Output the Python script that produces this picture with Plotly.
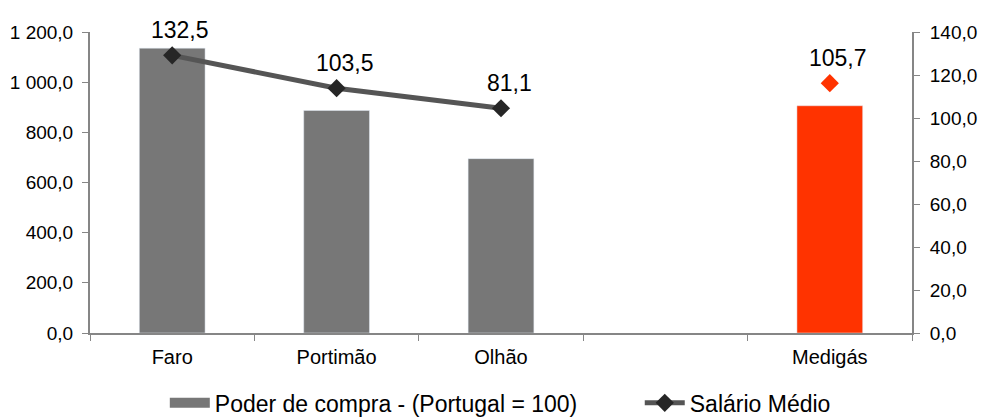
import plotly.graph_objects as go

categories = ["Faro", "Portimão", "Olhão", " ", "Medigás"]
bar_cats = ["Faro", "Portimão", "Olhão"]
poder_compra = [132.5, 103.5, 81.1]
salario_medio = [1107, 976, 896]
medigas_cat = ["Medigás"]
medigas_poder = [105.7]
medigas_salario = [996]

def fmt(v):
    return f"{v:.1f}".replace(".", ",")

font_family = "Liberation Sans, Arial, sans-serif"
axis_col = "#868686"
pad = "\u00a0" * 9

fig = go.Figure()
fig.add_trace(go.Bar(x=bar_cats, y=poder_compra, showlegend=False,
                     marker=dict(color="#777777"), width=0.4, yaxis="y"))
fig.add_trace(go.Bar(x=medigas_cat, y=medigas_poder, showlegend=False,
                     marker=dict(color="#FF3300"), width=0.4, yaxis="y"))
# legend-only entry drawn as a wide grey block, like the reference
fig.add_trace(go.Scatter(x=[None], y=[None], mode="lines", name="Poder de compra - (Portugal = 100)" + pad,
                         line=dict(color="#777777", width=14), yaxis="y"))
fig.add_trace(go.Scatter(x=bar_cats, y=salario_medio, name="Salário Médio", mode="lines+markers",
                         line=dict(color="#555555", width=5),
                         marker=dict(symbol="diamond", size=14, color="#262626"), yaxis="y2"))
fig.add_trace(go.Scatter(x=medigas_cat, y=medigas_salario, showlegend=False, mode="markers",
                         marker=dict(symbol="diamond", size=14, color="#FF3300"), yaxis="y2"))

for c, s, p in zip(bar_cats + medigas_cat, salario_medio + medigas_salario, poder_compra + medigas_poder):
    fig.add_annotation(x=c, y=s, yref="y2", text=fmt(p), showarrow=False, yshift=25, xshift=8,
                       font=dict(size=23, color="#000000", family=font_family))

fig.update_layout(
    width=1001, height=419,
    margin=dict(l=82, r=97, t=24, b=94, autoexpand=False),
    paper_bgcolor="white", plot_bgcolor="white",
    barmode="overlay",
    separators=", ",
    font=dict(family=font_family, size=17, color="#000000"),
    showlegend=True,
    legend=dict(orientation="h", x=0.091, xanchor="left", y=-0.232, yanchor="middle",
                font=dict(size=23), traceorder="normal", itemwidth=40),
    xaxis=dict(type="category", categoryorder="array", categoryarray=categories,
               range=[-0.5, 4.5], showline=True, linecolor=axis_col, linewidth=2,
               ticks="outside", tickson="boundaries", ticklen=6, tickcolor=axis_col,
               tickfont=dict(size=20), showgrid=False, ticklabelstandoff=5),
    yaxis=dict(side="right", range=[0, 140], dtick=20, tickformat=",.1f",
               showline=True, linecolor=axis_col, linewidth=2, ticks="outside",
               ticklen=6, tickcolor=axis_col, showgrid=False, zeroline=False,
               tickfont=dict(size=19), ticklabelstandoff=6),
    yaxis2=dict(side="left", overlaying="y", range=[0, 1200], dtick=200, tickformat=",.1f",
                showline=True, linecolor=axis_col, linewidth=2, ticks="outside",
                ticklen=6, tickcolor=axis_col, showgrid=False, zeroline=False,
                tickfont=dict(size=19), ticklabelstandoff=5),
)

fig.write_html("out.html")
